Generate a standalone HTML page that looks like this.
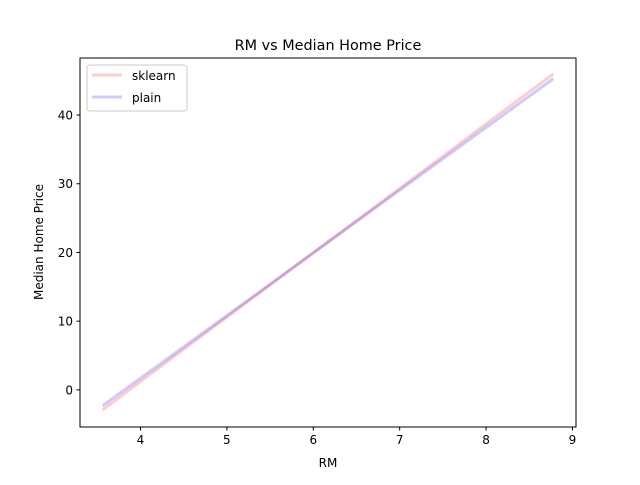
<!DOCTYPE html>
<html><head><meta charset="utf-8"><style>
body{margin:0;background:#fff;}
svg text{font-family:"DejaVu Sans","Liberation Sans",sans-serif;fill:#000;}
</style></head><body>
<svg width="640" height="480" xmlns="http://www.w3.org/2000/svg">
<rect width="640" height="480" fill="#fff"/>
<g id="plot"></g>
<text x="328" y="50" font-size="14.4" text-anchor="middle">RM vs Median Home Price</text>
<text x="328" y="467" font-size="12" text-anchor="middle">RM</text>
<text x="43" y="242" font-size="12" text-anchor="middle" transform="rotate(-90 43 242)">Median Home Price</text>
<g>
<rect x="87" y="65" width="100" height="46" rx="3" fill="#fff" stroke="#ccc" stroke-width="1"/>
<line x1="92" y1="75" x2="122" y2="75" stroke="#ffcccc" stroke-width="3"/>
<text x="132" y="80" font-size="12">sklearn</text>
<line x1="92" y1="97" x2="122" y2="97" stroke="#ccccff" stroke-width="3"/>
<text x="132" y="102" font-size="12">plain</text>
</g>
</svg>
<script>
const xTicks=[4,5,6,7,8,9];
const yTicks=[0,10,20,30,40];
const xEnds=[3.561,8.78];
const sklearnY=[-2.9,46.0];
const plainY=[-2.3,45.3];
const L=80,R=576,T=58,B=427,xmin=3.300,xmax=9.041,ymin=-5.4,ymax=48.3;
const sx=v=>L+(v-xmin)/(xmax-xmin)*(R-L);
const sy=v=>B-(v-ymin)/(ymax-ymin)*(B-T);
const g=document.getElementById('plot');
const NS='http://www.w3.org/2000/svg';
function mk(t,a){const e=document.createElementNS(NS,t);for(const k in a)e.setAttribute(k,a[k]);g.appendChild(e);return e;}
const s1=mk('polyline',{points:xEnds.map((x,i)=>sx(x)+','+sy(sklearnY[i])).join(' '),fill:'none',stroke:'#ffcccc','stroke-width':3});


const s2=mk('polyline',{points:xEnds.map((x,i)=>sx(x)+','+sy(plainY[i])).join(' '),fill:'none',stroke:'#ccccff','stroke-width':3,'style':'mix-blend-mode:multiply'});


const fr=mk('rect',{x:L,y:T,width:R-L,height:B-T,fill:'none',stroke:'#000','stroke-width':1});


xTicks.forEach(v=>{const x=sx(v);mk('line',{x1:x,y1:B,x2:x,y2:B+3.5,stroke:'#000'});
const t=mk('text',{x:x,y:B+17,'font-size':12,'text-anchor':'middle'});t.textContent=v;

});
yTicks.forEach(v=>{const y=sy(v);mk('line',{x1:L,y1:y,x2:L-3.5,y2:y,stroke:'#000'});
const t=mk('text',{x:L-7,y:y+4.5,'font-size':12,'text-anchor':'end'});t.textContent=v;

});
</script>
</body></html>
